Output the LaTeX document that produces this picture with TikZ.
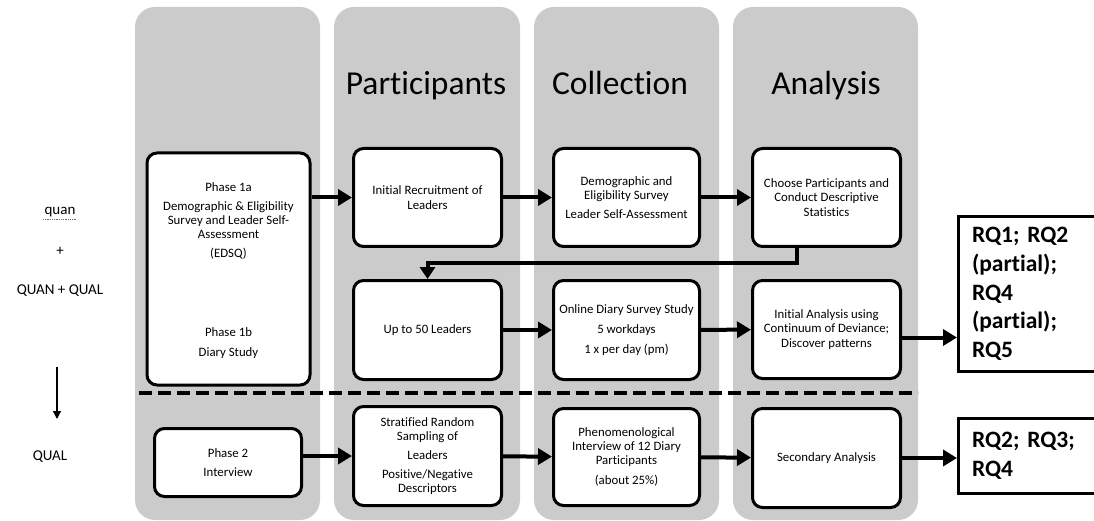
\documentclass[tikz,border=0pt]{standalone}
\usepackage{fontspec}
\setmainfont{Carlito}[Ligatures=NoCommon]
\usetikzlibrary{arrows.meta}
\definecolor{colgrey}{HTML}{CBCBCB}
\frenchspacing
\begin{document}
\begin{tikzpicture}[x=1pt,y=-1pt,
  column/.style={fill=colgrey, rounded corners=20pt},
  header/.style={font=\fontsize{33.5}{40}\selectfont, anchor=base},
  stepbox/.style={draw, line width=3pt, fill=white, rounded corners=10pt,
    align=center, inner sep=0pt, font=\fontsize{12.8}{14.3}\selectfont},
  plain/.style={align=center, inner sep=0pt, font=\fontsize{12.8}{14.3}\selectfont},
  rqbox/.style={draw, line width=3pt, fill=white, align=left, inner xsep=13.5pt,
    inner ysep=0pt, text width=128pt, minimum width=155pt,
    font=\fontsize{23.5}{28.7}\selectfont\bfseries},
  side/.style={font=\fontsize{15}{18}\selectfont, inner sep=0pt},
  flow/.style={line width=4pt, -{Triangle[length=14pt,width=16pt]}},
]
\useasboundingbox (0,0) rectangle (1094,521);
\clip (0,0) rectangle (1094,521);

% stage columns
\fill[column] (135,7) rectangle (320,520);
\fill[column] (334,7) rectangle (520,520);
\fill[column] (534,7) rectangle (719,520);
\fill[column] (733,7) rectangle (918,520);

% column headings
\node[header] (hpart) at (426,95) {Participants};
\node[header] (hcoll) at (620,95) {Collection};
\node[header] (hanal) at (826,95) {Analysis};

% left-hand design notation
\node[side] (lquan) at (60,212) {quan};
\draw[red!85, densely dotted, line width=0.8pt] (43,219.5) -- (77,219.5);
\node[side] (lplus) at (60,251) {+};
\node[side] (lmix) at (60,291) {QUAN + QUAL};
\node[side] (lqual) at (50,457) {QUAL};
\coordinate (dtop) at (57,367);
\coordinate (dbot) at (57,419);
\draw[line width=1.3pt, -{Triangle[length=8pt,width=8pt]}] (dtop) -- (dbot);

% phase separator
\coordinate (sepl) at (139,393);
\coordinate (sepr) at (918,393);
\draw[line width=4pt, dash pattern=on 13pt off 6pt] (sepl) -- (sepr);

% phase 1 (quantitative + qualitative)
\node[stepbox, minimum width=163pt, minimum height=232pt] (p1) at (228.5,269) {};
\node[plain] (p1a) at (228.5,221) {Phase 1a\\[4.5pt]Demographic \& Eligibility\\Survey and Leader Self-\\Assessment\\[5pt](EDSQ)};
\node[plain] (p1b) at (228.5,343) {Phase 1b\\[5.7pt]Diary Study};

\node[stepbox, minimum width=148pt, minimum height=98pt] (ir) at (427.5,197.5) {Initial Recruitment of\\Leaders};
\node[stepbox, minimum width=146pt, minimum height=98pt] (des) at (626.5,197.5) {Demographic and\\Eligibility Survey\\[4.5pt]Leader Self-Assessment};
\node[stepbox, minimum width=148pt, minimum height=98pt] (cho) at (826.5,197.5) {Choose Participants and\\Conduct Descriptive\\Statistics};

\node[stepbox, minimum width=148pt, minimum height=99pt] (up) at (427.5,330) {Up to 50 Leaders};
\node[stepbox, minimum width=146pt, minimum height=99pt] (onl) at (626.5,330) {Online Diary Survey Study\\[5.7pt]5 workdays\\[5.7pt]1 x per day (pm)};
\node[stepbox, minimum width=148pt, minimum height=98pt] (ia) at (826.5,329.5) {Initial Analysis using\\Continuum of Deviance;\\Discover patterns};

% phase 2 (qualitative)
\node[stepbox, minimum width=147pt, minimum height=68pt] (p2) at (228,462.5) {Phase 2\\[4.5pt]Interview};
\node[stepbox, minimum width=148pt, minimum height=99pt] (str) at (427.5,456) {Stratified Random\\Sampling of\\[4.5pt]Leaders\\[4.5pt]Positive/Negative\\Descriptors};
\node[stepbox, minimum width=146pt, minimum height=97pt] (phe) at (626.5,457) {Phenomenological\\Interview of 12 Diary\\Participants\\[5.5pt](about 25\%)};
\node[stepbox, minimum width=148pt, minimum height=99pt] (sec) at (826.5,458) {Secondary Analysis};

% research questions
\node[rqbox, minimum height=155pt] (rq1) at (1036,294) {RQ1; RQ2\\(partial);\\RQ4\\(partial);\\RQ5};
\node[rqbox, minimum height=75pt] (rq2) at (1036,456) {RQ2; RQ3;\\RQ4};

% flow arrows
\draw[flow] (p1.east |- ir.west) -- (ir.west);
\draw[flow] (ir) -- (des);
\draw[flow] (des) -- (cho);
\coordinate (elb) at (797,263);
\draw[line width=4pt, -{Triangle[length=12pt,width=15pt]}] (elb |- cho.south) -- (elb) -| (up.north);
\draw[flow] (up) -- (onl);
\draw[flow] (onl) -- (ia);
\coordinate (iaout) at ([yshift=-8pt]ia.east);
\draw[flow] (iaout) -- (iaout -| rq1.west);
\draw[flow] (p2.east |- str.west) -- (str.west);
\draw[flow] (str) -- (phe);
\draw[flow] (phe) -- (sec);
\draw[flow] (sec.east) -- (sec.east -| rq2.west);
\end{tikzpicture}
\end{document}
